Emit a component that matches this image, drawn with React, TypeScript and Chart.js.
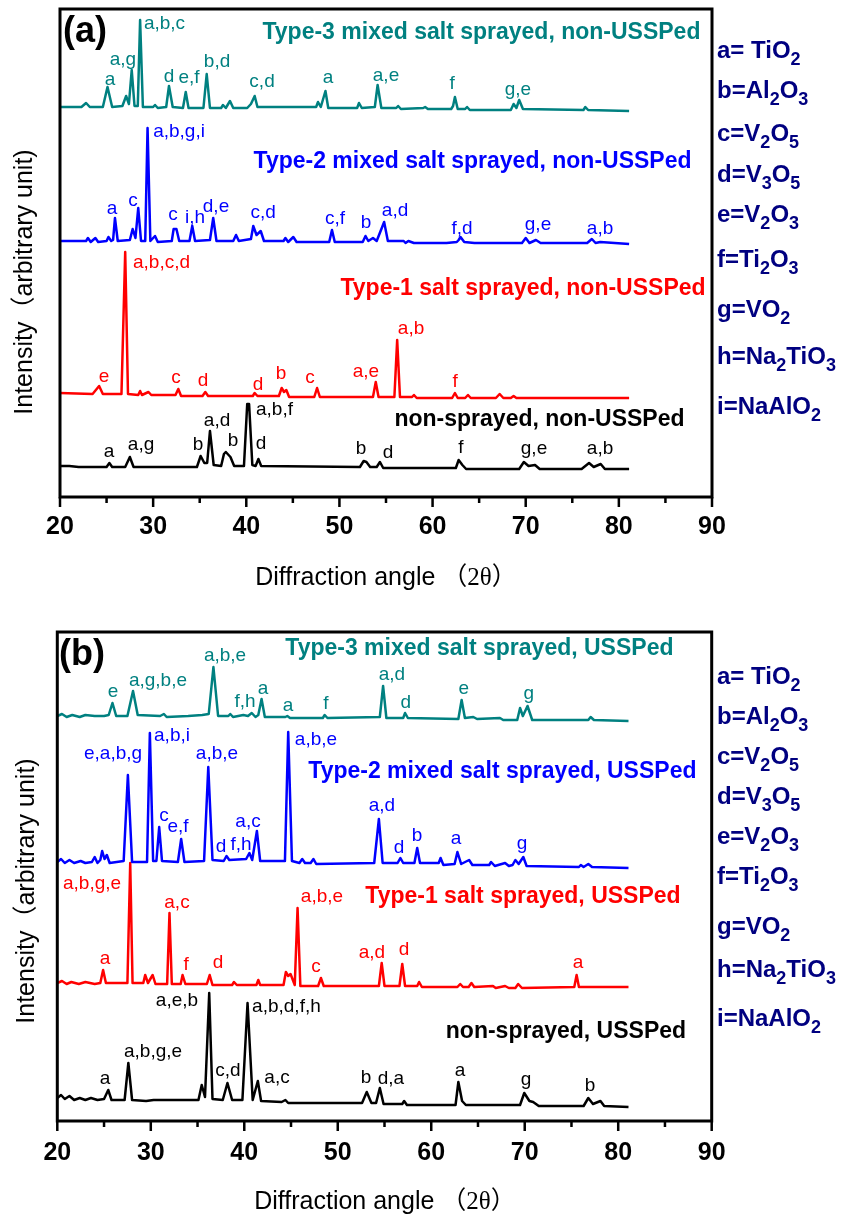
import React, { useEffect, useRef } from "react";
import { Chart, registerables } from "chart.js";

Chart.register(...registerables);

type Pt = [number, number];
type Lbl = [number, number, string];

// ---------- axis / legend text ----------
const X_TICKS = [20, 30, 40, 50, 60, 70, 80, 90];
const PHASES = ["a= TiO2", "b=Al2O3", "c=V2O5", "d=V3O5", "e=V2O3", "f=Ti2O3", "g=VO2", "h=Na2TiO3", "i=NaAlO2"];
const X_TITLE_MAIN = "Diffraction angle ";
const X_TITLE_SYM = "（2θ）";
const Y_TITLE = "Intensity（arbitrary unit)";

// ---------- panel (a): non-USSPed ----------
const A_TYPE3: Pt[] = [
  [20.0, 390], [22.3, 390], [22.8, 394], [23.2, 390], [24.6, 390], [25.1, 410], [25.6, 390], [26.7, 391],
  [27.1, 401], [27.4, 393], [27.7, 427], [28.0, 391], [28.35, 391], [28.6, 477], [28.9, 390], [30.0, 390],
  [30.2, 392], [30.5, 389], [31.4, 390], [31.7, 411], [32.1, 390], [33.2, 389], [33.5, 405], [33.8, 389],
  [35.4, 389], [35.75, 423], [36.1, 389], [37.3, 389], [37.5, 392], [37.8, 389], [38.25, 396], [38.6, 389],
  [40.1, 389], [40.5, 393], [40.9, 401], [41.2, 390], [44.0, 390], [47.5, 390], [47.7, 395], [48.0, 390],
  [48.5, 406], [48.8, 389], [51.9, 389], [52.1, 394], [52.4, 389], [53.8, 390], [54.1, 412], [54.5, 389],
  [56.1, 389], [56.3, 391], [56.6, 388], [59.0, 389], [59.2, 390], [59.5, 388], [62.0, 388], [62.2, 391],
  [62.4, 400], [62.7, 388], [63.5, 388], [63.7, 390], [64.0, 387], [68.4, 387], [68.7, 393], [69.0, 389],
  [69.3, 397], [69.7, 388], [76.2, 387], [76.4, 390], [76.7, 387], [81.1, 386],
];
const A_TYPE3_LABELS: Lbl[] = [
  [25.37, 417, "a"], [26.76, 437, "a,g"], [31.22, 473, "a,b,c"], [31.7, 420, "d"], [33.85, 419, "e,f"],
  [36.86, 435, "b,d"], [41.69, 415, "c,d"], [48.77, 419, "a"], [55.0, 421, "a,e"], [62.09, 413, "f"], [69.17, 407, "g,e"],
];

const A_TYPE2: Pt[] = [
  [20.0, 256], [22.8, 256], [23.0, 259], [23.3, 255], [23.8, 259], [24.1, 255], [25.0, 256], [25.2, 260],
  [25.5, 256], [25.7, 257], [25.9, 279], [26.2, 256], [27.5, 257], [27.8, 268], [28.1, 259], [28.4, 289],
  [28.7, 256], [29.15, 256], [29.4, 369], [29.7, 256], [30.2, 261], [30.5, 255], [32.0, 256], [32.2, 268],
  [32.5, 268], [32.8, 256], [33.9, 256], [34.2, 271], [34.5, 256], [36.1, 257], [36.45, 279], [36.8, 256],
  [38.6, 256], [38.9, 262], [39.2, 256], [40.5, 258], [40.75, 271], [41.1, 262], [41.55, 266], [41.9, 256],
  [44.0, 256], [44.2, 259], [44.5, 255], [45.05, 260], [45.4, 255], [48.9, 255], [49.2, 267], [49.5, 255],
  [52.5, 255], [52.8, 261], [53.1, 256], [53.6, 259], [54.0, 256], [54.8, 275], [55.2, 256], [56.9, 256],
  [57.1, 254], [57.4, 256], [58.0, 254], [61.5, 254], [62.6, 255], [62.8, 257], [63.0, 260], [63.4, 255],
  [64.5, 254], [69.6, 254], [70.0, 259], [70.4, 254], [71.1, 257], [71.6, 254], [76.6, 254], [77.1, 258],
  [77.5, 254], [78.0, 255], [81.1, 253],
];
const A_TYPE2_LABELS: Lbl[] = [
  [25.58, 288, "a"], [27.84, 296, "c"], [32.78, 365, "a,b,g,i"], [32.13, 282, "c"], [34.49, 279, "i,h"],
  [36.75, 290, "d,e"], [41.8, 284, "c,d"], [49.53, 278, "c,f"], [52.85, 274, "b"], [55.97, 286, "a,d"],
  [63.16, 268, "f,d"], [71.32, 272, "g,e"], [77.98, 268, "a,b"],
];

const A_TYPE1: Pt[] = [
  [20.0, 104], [23.5, 103], [24.2, 111], [24.6, 103], [26.6, 103], [27.0, 245], [27.3, 103], [28.4, 102],
  [28.6, 106], [28.8, 102], [29.5, 105], [29.8, 102], [32.4, 102], [32.7, 108], [33.0, 101], [35.3, 101],
  [35.6, 105], [35.9, 101], [40.7, 101], [40.9, 104], [41.2, 101], [43.5, 101], [43.8, 109], [44.05, 105],
  [44.3, 107], [44.6, 100], [47.3, 100], [47.6, 109], [47.9, 100], [53.6, 100], [53.9, 115], [54.2, 100],
  [55.9, 100], [56.2, 157], [56.5, 100], [57.8, 100], [58.0, 102], [58.3, 99], [62.1, 99], [62.4, 104],
  [62.7, 99], [63.5, 99], [63.8, 102], [64.1, 99], [66.8, 99], [67.2, 103], [67.6, 99], [68.4, 99],
  [68.7, 101], [69.0, 99], [81.1, 99],
];
const A_TYPE1_LABELS: Lbl[] = [
  [24.72, 120, "e"], [30.9, 234, "a,b,c,d"], [32.45, 119, "c"], [35.35, 116, "d"], [41.26, 112, "d"],
  [43.73, 123, "b"], [46.84, 119, "c"], [52.85, 125, "a,e"], [57.69, 168, "a,b"], [62.41, 115, "f"],
];

const A_BASE: Pt[] = [
  [20.0, 31], [21.0, 31], [22.0, 30], [25.0, 30], [25.3, 34], [25.6, 30], [27.0, 30], [27.5, 40], [27.9, 30],
  [34.7, 30], [35.1, 41], [35.5, 34], [35.8, 34], [36.1, 66], [36.5, 32], [37.3, 31], [37.6, 43], [37.8, 45],
  [38.3, 40], [38.7, 31], [39.75, 31], [40.1, 93], [40.3, 93], [40.65, 32], [41.0, 31], [41.3, 38], [41.6, 31], [52.2, 30],
  [52.6, 36], [52.9, 35], [53.3, 30], [54.0, 30], [54.35, 35], [54.7, 29], [56.8, 29], [62.5, 29], [62.8, 37],
  [63.2, 32], [63.6, 28], [69.3, 28], [69.8, 35], [70.3, 31], [71.0, 32], [71.5, 28], [76.0, 28], [76.8, 34],
  [77.3, 30], [78.05, 33], [78.5, 28], [81.1, 28],
];
const A_BASE_LABELS: Lbl[] = [
  [25.26, 45, "a"], [28.7, 52, "a,g"], [34.82, 52, "b"], [36.86, 76, "a,d"], [38.57, 56, "b"],
  [43.03, 87, "a,b,f"], [41.58, 53, "d"], [52.32, 48, "b"], [55.22, 44, "d"], [63.05, 49, "f"],
  [70.89, 48, "g,e"], [77.98, 48, "a,b"],
];

const A_TITLES = [
  "Type-3 mixed salt sprayed, non-USSPed",
  "Type-2 mixed salt sprayed, non-USSPed",
  "Type-1 salt sprayed, non-USSPed",
  "non-sprayed, non-USSPed",
];

// ---------- panel (b): USSPed ----------
const B_TYPE3: Pt[] = [
  [20.0, 405], [20.5, 407], [21.0, 404], [21.6, 406], [22.4, 404], [23.0, 406], [24.0, 405], [25.0, 405],
  [25.5, 406], [25.9, 418], [26.3, 405], [27.5, 405], [28.1, 430], [28.6, 406], [31.0, 405], [31.4, 407],
  [31.7, 404], [34.0, 405], [35.5, 406], [36.2, 407], [36.7, 454], [37.2, 405], [38.3, 405], [38.5, 407],
  [38.8, 404], [39.9, 406], [40.4, 405], [40.8, 408], [41.2, 404], [41.5, 406], [41.85, 422], [42.2, 404],
  [44.4, 404], [44.6, 405], [44.9, 403], [48.4, 403], [48.6, 406], [48.9, 403], [54.5, 404], [54.85, 435],
  [55.2, 403], [57.0, 403], [57.2, 408], [57.5, 403], [62.9, 402], [63.25, 421], [63.6, 403], [64.5, 404],
  [64.9, 402], [67.35, 403], [67.7, 401], [69.2, 401], [69.5, 413], [69.8, 405], [70.3, 415], [70.8, 401],
  [76.8, 401], [77.05, 404], [77.4, 401], [81.1, 400],
];
const B_TYPE3_LABELS: Lbl[] = [
  [25.96, 429, "e"], [30.77, 440, "a,g,b,e"], [37.94, 465, "a,b,e"], [40.08, 419, "f,h"], [42.0, 432, "a"],
  [44.67, 415, "a"], [48.74, 417, "f"], [55.8, 446, "a,d"], [57.29, 418, "d"], [63.49, 432, "e"], [70.44, 427, "g"],
];

const B_TYPE2: Pt[] = [
  [20.0, 259], [20.4, 262], [20.8, 258], [21.3, 261], [21.8, 258], [22.5, 260], [23.0, 258], [23.7, 259],
  [24.0, 264], [24.3, 258], [24.6, 261], [24.8, 270], [25.05, 262], [25.3, 266], [25.6, 258], [27.1, 260],
  [27.55, 346], [28.0, 259], [29.6, 259], [29.9, 388], [30.25, 260], [30.6, 260], [30.9, 294], [31.2, 260],
  [32.9, 259], [33.25, 282], [33.6, 259], [35.7, 260], [36.15, 354], [36.6, 261], [37.8, 260], [38.1, 265],
  [38.4, 261], [40.2, 262], [40.55, 268], [40.85, 261], [41.35, 290], [41.7, 260], [44.35, 260], [44.7, 389],
  [45.1, 260], [45.9, 258], [46.2, 262], [46.5, 258], [47.1, 258], [47.4, 262], [47.7, 257], [53.9, 258],
  [54.4, 302], [54.8, 258], [56.4, 258], [56.7, 263], [57.0, 258], [58.2, 258], [58.5, 273], [58.8, 258],
  [60.8, 258], [61.0, 263], [61.3, 256], [62.5, 257], [62.8, 269], [63.2, 257], [64.05, 261], [64.4, 256],
  [66.2, 256], [66.4, 259], [66.8, 255], [67.9, 258], [68.3, 255], [68.7, 256], [69.0, 261], [69.35, 257],
  [69.85, 264], [70.2, 255], [75.8, 254], [76.0, 256], [76.3, 254], [76.8, 257], [77.2, 254], [81.1, 253],
];
const B_TYPE2_LABELS: Lbl[] = [
  [25.96, 367, "e,a,b,g"], [32.27, 385, "a,b,i"], [31.41, 305, "c"], [32.91, 294, "e,f"], [37.08, 367, "a,b,e"],
  [37.51, 274, "d"], [39.65, 276, "f,h"], [40.4, 299, "a,c"], [47.67, 381, "a,b,e"], [54.73, 315, "a,d"],
  [56.55, 273, "d"], [58.47, 285, "b"], [62.64, 282, "a"], [69.7, 277, "g"],
];

const B_TYPE1: Pt[] = [
  [20.0, 138], [20.5, 140], [21.0, 137], [21.5, 139], [22.3, 137], [23.0, 139], [24.0, 137], [24.6, 138],
  [24.9, 151], [25.2, 138], [27.5, 138], [27.8, 258], [28.05, 138], [29.2, 138], [29.4, 146], [29.7, 138],
  [30.2, 146], [30.5, 137], [31.75, 137], [32.0, 208], [32.25, 137], [33.2, 137], [33.4, 146], [33.7, 137],
  [36.0, 137], [36.3, 146], [36.6, 136], [38.7, 136], [38.9, 139], [39.2, 136], [41.3, 136], [41.5, 141],
  [41.7, 136], [44.2, 136], [44.45, 149], [44.7, 145], [44.95, 147], [45.4, 136], [45.7, 213], [46.0, 135],
  [47.9, 135], [48.2, 143], [48.5, 135], [54.4, 135], [54.7, 158], [55.0, 135], [56.6, 135], [56.9, 157],
  [57.2, 135], [58.5, 135], [58.7, 139], [59.0, 134], [62.8, 134], [63.1, 137], [63.4, 134], [64.0, 134],
  [64.3, 138], [64.6, 134], [66.6, 135], [66.9, 133], [67.9, 135], [68.3, 133], [69.0, 133], [69.3, 137],
  [69.7, 133], [75.3, 134], [75.55, 146], [75.8, 134], [81.1, 134],
];
const B_TYPE1_LABELS: Lbl[] = [
  [23.72, 237, "a,b,g,e"], [32.8, 218, "a,c"], [25.1, 162, "a"], [33.77, 156, "f"], [37.19, 158, "d"],
  [48.31, 224, "a,b,e"], [47.67, 154, "c"], [53.66, 168, "a,d"], [57.08, 171, "d"], [75.69, 158, "a"],
];

const B_BASE: Pt[] = [
  [20.0, 23], [20.4, 26], [20.8, 22], [21.3, 25], [21.8, 21], [22.4, 23], [23.0, 21], [23.6, 23], [24.3, 21],
  [25.0, 22], [25.45, 31], [25.8, 21], [27.2, 21], [27.6, 58], [28.0, 21], [29.5, 20], [30.3, 21], [35.1, 21],
  [35.45, 36], [35.8, 24], [36.25, 128], [36.6, 22], [37.7, 21], [38.2, 38], [38.7, 21], [39.8, 21],
  [40.35, 118], [40.9, 21], [41.45, 40], [41.8, 20], [44.0, 19], [44.4, 21], [44.7, 18], [52.6, 18],
  [53.1, 29], [53.6, 18], [54.1, 18], [54.5, 33], [54.9, 17], [56.9, 17], [57.1, 20], [57.4, 16], [62.6, 16],
  [62.9, 39], [63.3, 20], [63.7, 16], [69.5, 16], [69.95, 28], [70.5, 20], [70.9, 19], [71.5, 15], [76.3, 15],
  [76.8, 23], [77.3, 17], [78.1, 20], [78.5, 15], [81.1, 14],
];
const B_BASE_LABELS: Lbl[] = [
  [25.1, 42, "a"], [30.24, 69, "a,b,g,e"], [32.8, 120, "a,e,b"], [38.26, 50, "c,d"], [44.51, 114, "a,b,d,f,h"],
  [43.5, 43, "a,c"], [53.02, 43, "b"], [55.69, 42, "d,a"], [63.07, 50, "a"], [70.13, 41, "g"], [76.98, 35, "b"],
];

const B_TITLES = [
  "Type-3 mixed salt sprayed, USSPed",
  "Type-2 mixed salt sprayed, USSPed",
  "Type-1 salt sprayed, USSPed",
  "non-sprayed, USSPed",
];

// ---------- styles / layout ----------
const TEAL = "#008080";
const BLUE = "#0000ff";
const RED = "#ff0000";
const BLACK = "#000000";
const NAVY = "#000080";
const W = 842;

type Series = { data: Pt[]; color: string; labels: Lbl[]; title: string; titleAt: Pt };
type Box = {
  top: number; h: number; left: number; right: number; plotTop: number; plotBottom: number;
  tickPad: number; yTitleX: number; yTitleY: number; xTitleY: number; xTitleX: number;
  legendRows: number[]; tag: string; tagX: number; tagY: number;
};

const PANEL_A: Series[] = [
  { data: A_TYPE3, color: TEAL, labels: A_TYPE3_LABELS, title: A_TITLES[0], titleAt: [65.25, 464] },
  { data: A_TYPE2, color: BLUE, labels: A_TYPE2_LABELS, title: A_TITLES[1], titleAt: [64.29, 335] },
  { data: A_TYPE1, color: RED, labels: A_TYPE1_LABELS, title: A_TITLES[2], titleAt: [69.71, 208] },
  { data: A_BASE, color: BLACK, labels: A_BASE_LABELS, title: A_TITLES[3], titleAt: [71.48, 77] },
];
const PANEL_B: Series[] = [
  { data: B_TYPE3, color: TEAL, labels: B_TYPE3_LABELS, title: B_TITLES[0], titleAt: [65.15, 472] },
  { data: B_TYPE2, color: BLUE, labels: B_TYPE2_LABELS, title: B_TITLES[1], titleAt: [67.61, 349] },
  { data: B_TYPE1, color: RED, labels: B_TYPE1_LABELS, title: B_TITLES[2], titleAt: [69.81, 224] },
  { data: B_BASE, color: BLACK, labels: B_BASE_LABELS, title: B_TITLES[3], titleAt: [74.41, 89] },
];

const BOX_A: Box = {
  top: 0, h: 600, left: 60, right: 712, plotTop: 9, plotBottom: 497, tickPad: 15,
  yTitleX: 25, yTitleY: 282, xTitleY: 578, xTitleX: 386,
  legendRows: [49, 89, 132, 173, 213, 258, 308, 355, 405], tag: "(a)", tagX: 63, tagY: 32,
};
const BOX_B: Box = {
  top: 600, h: 618, left: 57.3, right: 711.7, plotTop: 32, plotBottom: 521, tickPad: 17,
  yTitleX: 27, yTitleY: 291, xTitleY: 602, xTitleX: 385,
  legendRows: [75, 115, 155, 195, 235, 275, 325, 368, 417], tag: "(b)", tagX: 59, tagY: 55,
};

function drawFormula(ctx: CanvasRenderingContext2D, text: string, x: number, yc: number) {
  const base = yc + 8.5;
  let cx = x;
  ctx.textAlign = "left";
  ctx.textBaseline = "alphabetic";
  ctx.fillStyle = NAVY;
  const runs = text.match(/[0-9]+|[^0-9]+/g) || [];
  for (const r of runs) {
    const sub = /^[0-9]/.test(r);
    ctx.font = sub ? "bold 18px Arial" : "bold 24px Arial";
    ctx.fillText(r, cx, sub ? base + 7 : base);
    cx += ctx.measureText(r).width;
  }
}

function makeOverlay(series: Series[], box: Box) {
  return {
    id: "xrdOverlay",
    afterDraw(chart: any) {
      const { ctx, chartArea: a } = chart;
      const xs = chart.scales.x;
      const ys = chart.scales.y;
      ctx.save();
      // frame
      ctx.strokeStyle = "#000";
      ctx.lineWidth = 3;
      ctx.strokeRect(a.left, a.top, a.right - a.left, a.bottom - a.top);
      // ticks (major + minor)
      ctx.lineWidth = 2.5;
      const minors = X_TICKS.slice(1).map((v, i) => (v + X_TICKS[i]) / 2);
      ctx.beginPath();
      for (const v of X_TICKS) {
        const px = xs.getPixelForValue(v);
        ctx.moveTo(px, a.bottom);
        ctx.lineTo(px, a.bottom + 10);
      }
      for (const v of minors) {
        const px = xs.getPixelForValue(v);
        ctx.moveTo(px, a.bottom);
        ctx.lineTo(px, a.bottom + 6);
      }
      ctx.stroke();
      // peak labels + series titles
      for (const s of series) {
        ctx.fillStyle = s.color;
        ctx.font = "19px Arial";
        ctx.textAlign = "center";
        ctx.textBaseline = "middle";
        for (const [x, y, t] of s.labels) {
          ctx.fillText(t, xs.getPixelForValue(x), ys.getPixelForValue(y));
        }
        ctx.font = "bold 23px Arial";
        ctx.fillText(s.title, xs.getPixelForValue(s.titleAt[0]), ys.getPixelForValue(s.titleAt[1]));
      }
      // panel tag
      ctx.fillStyle = "#000";
      ctx.font = "bold 36px Arial";
      ctx.textAlign = "left";
      ctx.textBaseline = "middle";
      ctx.fillText(box.tag, box.tagX, box.tagY);
      // phase legend
      PHASES.forEach((p, i) => drawFormula(ctx, p, 717, box.legendRows[i]));
      // y title
      ctx.save();
      ctx.translate(box.yTitleX, box.yTitleY);
      ctx.rotate(-Math.PI / 2);
      ctx.fillStyle = "#000";
      ctx.font = "25px Arial, 'Noto Sans CJK SC'";
      ctx.textAlign = "center";
      ctx.textBaseline = "middle";
      ctx.fillText(Y_TITLE, 0, 0);
      ctx.restore();
      // x title
      ctx.fillStyle = "#000";
      ctx.textBaseline = "middle";
      ctx.textAlign = "left";
      ctx.font = "25px Arial";
      const w1 = ctx.measureText(X_TITLE_MAIN).width;
      ctx.font = "25px 'Liberation Serif', 'Noto Sans CJK SC'";
      const w2 = ctx.measureText(X_TITLE_SYM).width;
      const x0 = box.xTitleX - (w1 + w2) / 2;
      ctx.font = "25px Arial";
      ctx.fillText(X_TITLE_MAIN, x0, box.xTitleY);
      ctx.font = "25px 'Liberation Serif', 'Noto Sans CJK SC'";
      ctx.fillText(X_TITLE_SYM, x0 + w1, box.xTitleY);
      ctx.restore();
    },
  };
}

function Panel({ series, box }: { series: Series[]; box: Box }) {
  const ref = useRef<HTMLCanvasElement>(null);
  useEffect(() => {
    const canvas = ref.current;
    if (!canvas) return;
    const chart = new Chart(canvas, {
      type: "line",
      data: {
        datasets: series.map((s) => ({
          data: s.data.map(([x, y]) => ({ x, y })),
          borderColor: s.color,
          borderWidth: 2.5,
          borderJoinStyle: "round",
          pointRadius: 0,
          tension: 0,
          fill: false,
        })),
      },
      options: {
        animation: false,
        responsive: false,
        devicePixelRatio: 1,
        events: [],
        layout: { padding: { left: box.left, right: W - box.right, top: box.plotTop, bottom: 0 } },
        plugins: { legend: { display: false }, tooltip: { enabled: false } },
        scales: {
          x: {
            type: "linear",
            position: "bottom",
            min: 20,
            max: 90,
            grid: { display: false, drawTicks: false },
            border: { display: false },
            afterBuildTicks: (s: any) => {
              s.ticks = X_TICKS.map((v) => ({ value: v }));
            },
            afterFit: (s: any) => {
              s.height = box.h - box.plotBottom;
            },
            ticks: {
              color: "#000",
              font: { family: "Arial", size: 25, weight: "bold" },
              padding: box.tickPad,
              maxRotation: 0,
              autoSkip: false,
              callback: (v: any) => String(v),
            },
          },
          y: { type: "linear", min: 0, max: box.plotBottom - box.plotTop, display: false },
        },
      } as any,
      plugins: [makeOverlay(series, box)],
    });
    return () => chart.destroy();
  }, [series, box]);
  return (
    <canvas
      ref={ref}
      width={W}
      height={box.h}
      style={{ position: "absolute", left: 0, top: box.top, width: W, height: box.h, display: "block" }}
    />
  );
}

export default function App() {
  return (
    <div style={{ position: "absolute", left: 0, top: 0, width: W, height: 1218, background: "#fff" }}>
      <Panel series={PANEL_A} box={BOX_A} />
      <Panel series={PANEL_B} box={BOX_B} />
    </div>
  );
}
